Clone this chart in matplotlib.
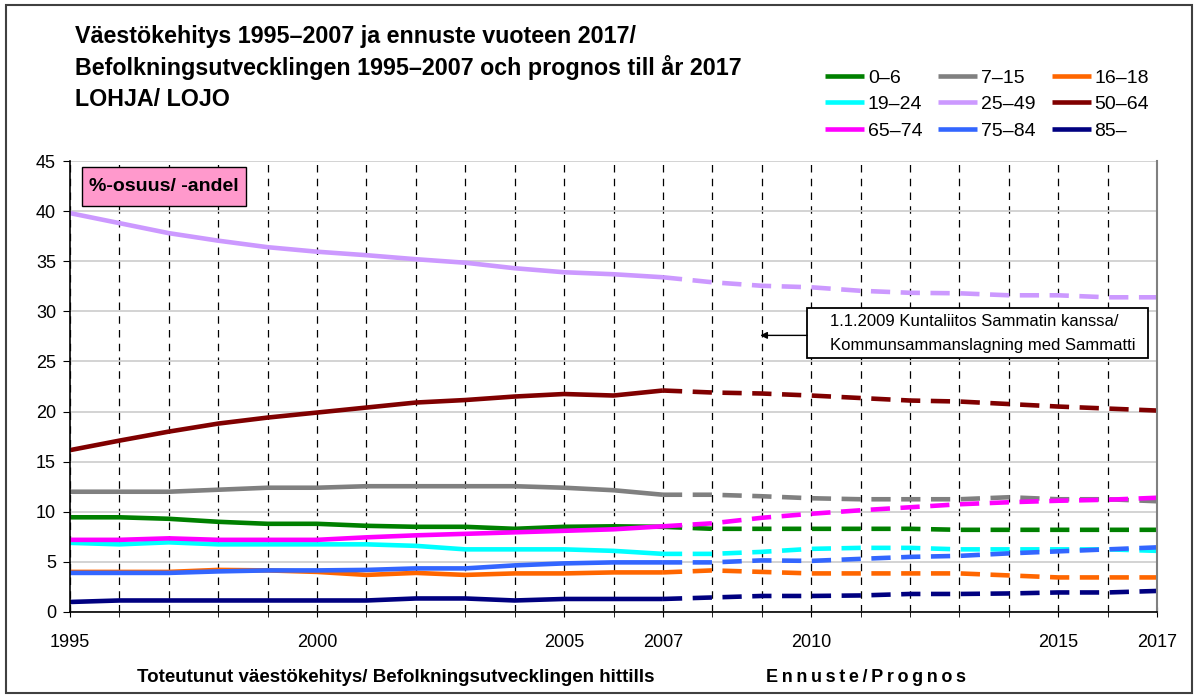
import matplotlib
matplotlib.use('Agg')
import matplotlib.pyplot as plt
from matplotlib.patches import Rectangle
from matplotlib.ticker import MultipleLocator

plt.rcParams['font.family'] = ['Liberation Sans', 'DejaVu Sans']

# Data (% share of population by age group), 1995-2007 actual, 2008-2017 forecast
years = list(range(1995, 2018))
age_0_6 = [9.45, 9.45, 9.3, 9.0, 8.8, 8.8, 8.6, 8.5, 8.5, 8.3, 8.5, 8.55, 8.5,
           8.3, 8.3, 8.3, 8.3, 8.3, 8.2, 8.2, 8.2, 8.2, 8.2]
age_7_15 = [12.0, 12.0, 12.0, 12.2, 12.4, 12.4, 12.55, 12.55, 12.55, 12.55, 12.4, 12.15, 11.7,
            11.7, 11.55, 11.35, 11.25, 11.25, 11.25, 11.45, 11.25, 11.25, 11.05]
age_16_18 = [4.0, 4.0, 4.0, 4.2, 4.15, 4.0, 3.7, 3.9, 3.7, 3.85, 3.85, 3.95, 3.95,
             4.15, 4.0, 3.85, 3.85, 3.85, 3.85, 3.65, 3.45, 3.45, 3.45]
age_19_24 = [6.9, 6.75, 6.95, 6.75, 6.75, 6.75, 6.75, 6.6, 6.25, 6.25, 6.25, 6.1, 5.8,
             5.8, 6.0, 6.3, 6.4, 6.4, 6.25, 6.25, 6.25, 6.25, 6.1]
age_25_49 = [39.8, 38.8, 37.8, 37.05, 36.4, 35.95, 35.6, 35.2, 34.85, 34.3, 33.9, 33.7, 33.4,
             32.9, 32.55, 32.4, 32.05, 31.85, 31.8, 31.6, 31.6, 31.4, 31.4]
age_50_64 = [16.15, 17.1, 18.0, 18.8, 19.4, 19.9, 20.4, 20.9, 21.15, 21.5, 21.75, 21.6, 22.1,
             21.9, 21.8, 21.6, 21.35, 21.1, 21.0, 20.75, 20.5, 20.3, 20.1]
age_65_74 = [7.2, 7.2, 7.35, 7.2, 7.2, 7.2, 7.45, 7.65, 7.8, 7.95, 8.1, 8.25, 8.55,
             8.85, 9.4, 9.8, 10.15, 10.45, 10.75, 10.95, 11.1, 11.2, 11.4]
age_75_84 = [3.9, 3.9, 3.9, 4.05, 4.15, 4.15, 4.2, 4.35, 4.35, 4.65, 4.85, 4.95, 4.95,
             4.95, 5.15, 5.1, 5.3, 5.5, 5.6, 5.85, 6.05, 6.25, 6.45]
age_85 = [1.0, 1.15, 1.15, 1.15, 1.15, 1.15, 1.15, 1.35, 1.35, 1.15, 1.3, 1.3, 1.3,
          1.45, 1.6, 1.6, 1.65, 1.8, 1.8, 1.85, 1.95, 1.95, 2.1]

labels = ['0–6', '7–15', '16–18', '19–24', '25–49', '50–64', '65–74', '75–84', '85–']
series = [age_0_6, age_7_15, age_16_18, age_19_24, age_25_49, age_50_64,
          age_65_74, age_75_84, age_85]
colors = ['#008000', '#808080', '#FF6600', '#00FFFF', '#CC99FF', '#800000',
          '#FF00FF', '#3366FF', '#000080']
x_ticks = [1995, 2000, 2005, 2007, 2010, 2015, 2017]
last_actual = 2007

fig = plt.figure(figsize=(11.98, 6.97), dpi=100)
ax = fig.add_axes([70 / 1198, 1 - 612 / 697, 1087 / 1198, 451 / 697])

cut = years.index(last_actual)
handles = []
for vals, col, lab in zip(series, colors, labels):
    h, = ax.plot(years[:cut + 1], vals[:cut + 1], color=col, lw=3.3,
                 solid_capstyle='butt', label=lab)
    ax.plot(years[cut:], vals[cut:], color=col, lw=3.3, dashes=(4.2, 2.3),
            dash_capstyle='butt')
    handles.append(h)

ax.set_xlim(1995, 2017)
ax.set_ylim(0, 45)
ax.yaxis.set_major_locator(MultipleLocator(5))
ax.set_xticks(x_ticks)
ax.xaxis.set_minor_locator(MultipleLocator(1))
ax.set_axisbelow(True)
ax.grid(axis='y', color='#D0D0D0', lw=1.3, linestyle='-')
ax.grid(axis='x', which='both', color='black', lw=0.9, dashes=(6, 5))
ax.tick_params(axis='y', direction='out', length=5, labelsize=13, pad=5)
ax.tick_params(axis='x', which='both', direction='inout', length=7,
               labelsize=13, pad=12)
ax.spines['top'].set_visible(False)
ax.spines['right'].set_color('#808080')
ax.spines['right'].set_linewidth(1.5)
ax.spines['left'].set_linewidth(1.2)
ax.spines['bottom'].set_linewidth(1.2)

# "%-osuus" box
ax.add_patch(Rectangle((0.011, 0.900), 0.151, 0.087, transform=ax.transAxes,
                       facecolor='#FF99CC', edgecolor='black', lw=1.0, zorder=5))
ax.text(0.0865, 0.943, '%-osuus/ -andel', transform=ax.transAxes, ha='center',
        va='center', fontsize=14, fontweight='bold', zorder=6)

# merger note
ax.add_patch(Rectangle((2009.92, 25.35), 6.9, 5.0, facecolor='white',
                       edgecolor='black', lw=1.3, zorder=5))
ax.text(2010.38, 28.94, '1.1.2009 Kuntaliitos Sammatin kanssa/', fontsize=12,
        va='center', ha='left', zorder=6)
ax.text(2010.38, 26.55, 'Kommunsammanslagning med Sammatti', fontsize=12,
        va='center', ha='left', zorder=6)
ax.annotate('', xy=(2008.97, 27.6), xytext=(2009.92, 27.6),
            arrowprops=dict(arrowstyle='-|>', color='black', lw=1.0,
                            mutation_scale=10, shrinkA=0, shrinkB=0), zorder=6)

# titles
title_lines = ['Väestökehitys 1995–2007 ja ennuste vuoteen 2017/',
               'Befolkningsutvecklingen 1995–2007 och prognos till år 2017',
               'LOHJA/ LOJO']
for i, line in enumerate(title_lines):
    fig.text(75 / 1198, 1 - (43.5 + 31.5 * i) / 697, line, fontsize=16.75,
             fontweight='bold', va='baseline', ha='left')

fig.text(396 / 1198, 1 - 682 / 697,
         'Toteutunut väestökehitys/ Befolkningsutvecklingen hittills',
         fontsize=13.5, fontweight='bold', ha='center', va='baseline')
spaced = '\u2009'.join('Ennuste') + '\u2009/\u2009' + '\u2009'.join('Prognos')
fig.text(866 / 1198, 1 - 682 / 697, spaced,
         fontsize=13, fontweight='bold', ha='center', va='baseline')

order = [0, 3, 6, 1, 4, 7, 2, 5, 8]
fig.legend([handles[i] for i in order], [labels[i] for i in order], ncol=3,
           loc='upper left', bbox_to_anchor=(825 / 1198, 1 - 69 / 697),
           frameon=False, fontsize=14, handlelength=2.0, handletextpad=0.2,
           columnspacing=0.82, labelspacing=0.46, borderaxespad=0, borderpad=0)

fig.add_artist(Rectangle((6 / 1198, 4 / 697), 1186 / 1198, 688 / 697,
                         transform=fig.transFigure, fill=False,
                         edgecolor='#404040', lw=1.5))

fig.savefig('out.png', dpi=100)
